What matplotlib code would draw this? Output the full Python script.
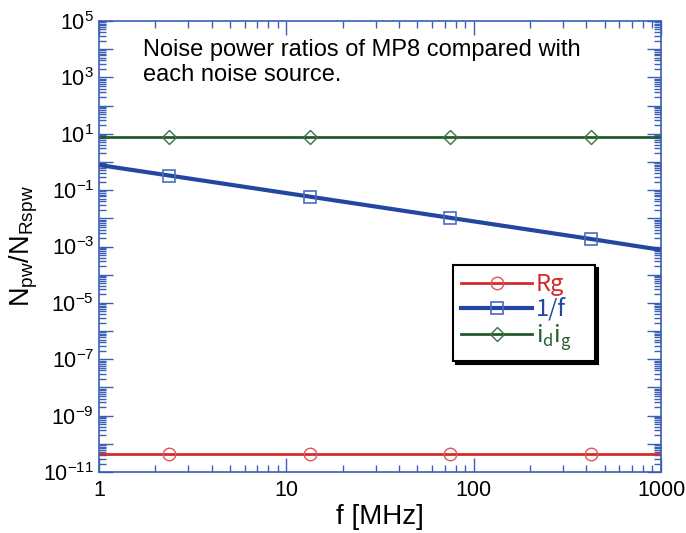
import numpy as np
import matplotlib
matplotlib.use("Agg")
import matplotlib.pyplot as plt
from matplotlib.ticker import LogLocator, FuncFormatter, NullFormatter

# data
f = [1, 2.37, 13.3, 75, 422, 1000]
rg = [4.5e-11, 4.5e-11, 4.5e-11, 4.5e-11, 4.5e-11, 4.5e-11]
one_over_f = [0.78, 0.33, 0.059, 0.0104, 0.00185, 0.00076]
idig = [7.6, 7.6, 7.6, 7.6, 7.6, 7.6]
mark_idx = [1, 2, 3, 4]

red = "#d42a2a"
blue = "#2347a0"
green = "#245a2c"
spine = "#3a5fb5"

plt.rcParams['font.family'] = ['Liberation Sans', 'DejaVu Sans']

fig = plt.figure(figsize=(6.86, 5.33), dpi=100)
ax = fig.add_axes([0.1443, 0.1144, 0.8193, 0.8462])

ax.plot(f, rg, color=red, lw=2, marker='o', markevery=mark_idx, ms=9,
        mfc='none', mec="#e05555", mew=1, label='Rg')
ax.plot(f, one_over_f, color=blue, lw=3, marker='s', markevery=mark_idx, ms=9,
        mfc='none', mec="#4a6cc0", mew=1.2, label='1/f')
ax.plot(f, idig, color=green, lw=2, marker='D', markevery=mark_idx, ms=7,
        mfc='none', mec="#3d7045", mew=1, label='i$_\\mathregular{d}$i$_\\mathregular{g}$')

ax.set_xscale('log')
ax.set_yscale('log')
ax.set_xlim(1, 1000)
ax.set_ylim(1e-11, 1e5)

ax.xaxis.set_major_locator(LogLocator(base=10, numticks=10))
ax.xaxis.set_minor_locator(LogLocator(base=10, subs=np.arange(2, 10), numticks=10))
ax.xaxis.set_major_formatter(FuncFormatter(lambda v, p: "%d" % round(v)))
ax.xaxis.set_minor_formatter(NullFormatter())

ax.yaxis.set_major_locator(LogLocator(base=10, numticks=30))
ax.yaxis.set_minor_locator(LogLocator(base=10, subs=np.arange(2, 10), numticks=30))


def yfmt(v, p):
    e = int(round(np.log10(v)))
    if e % 2 == 0:
        return ""
    return "$\\mathregular{10^{%d}}$" % e


ax.yaxis.set_major_formatter(FuncFormatter(yfmt))
ax.yaxis.set_minor_formatter(NullFormatter())

for s in ax.spines.values():
    s.set_color(spine)
    s.set_linewidth(1.2)
ax.tick_params(which='both', direction='in', top=True, right=True,
               color=spine, labelsize=15.5, labelcolor='black')
ax.tick_params(which='major', length=10, width=1)
ax.tick_params(which='minor', length=5, width=1)
ax.tick_params(axis='x', pad=6)

ax.set_xlabel('f [MHz]', fontsize=20, labelpad=2)
ax.set_ylabel('N$_\\mathregular{pw}$/N$_\\mathregular{Rspw}$', fontsize=19.5, labelpad=2)

ax.text(0.078, 0.96, 'Noise power ratios of MP8 compared with\neach noise source.',
        transform=ax.transAxes, fontsize=17, va='top', ha='left', linespacing=1.15)

leg = ax.legend(loc='upper left', bbox_to_anchor=(0.63, 0.24, 0.2527, 0.219),
                mode='expand', fontsize=17,
                frameon=True, fancybox=False, shadow={'color': 'black', 'alpha': 1},
                edgecolor='black', handlelength=3.0, borderpad=0.35,
                labelspacing=0.05, handletextpad=0.15, borderaxespad=0)
leg.get_frame().set_linewidth(1.5)
for t, c in zip(leg.get_texts(), [red, blue, green]):
    t.set_color(c)
    t.set_family(['Noto Sans CJK JP', 'DejaVu Sans'])

fig.savefig('out.png', dpi=100)
